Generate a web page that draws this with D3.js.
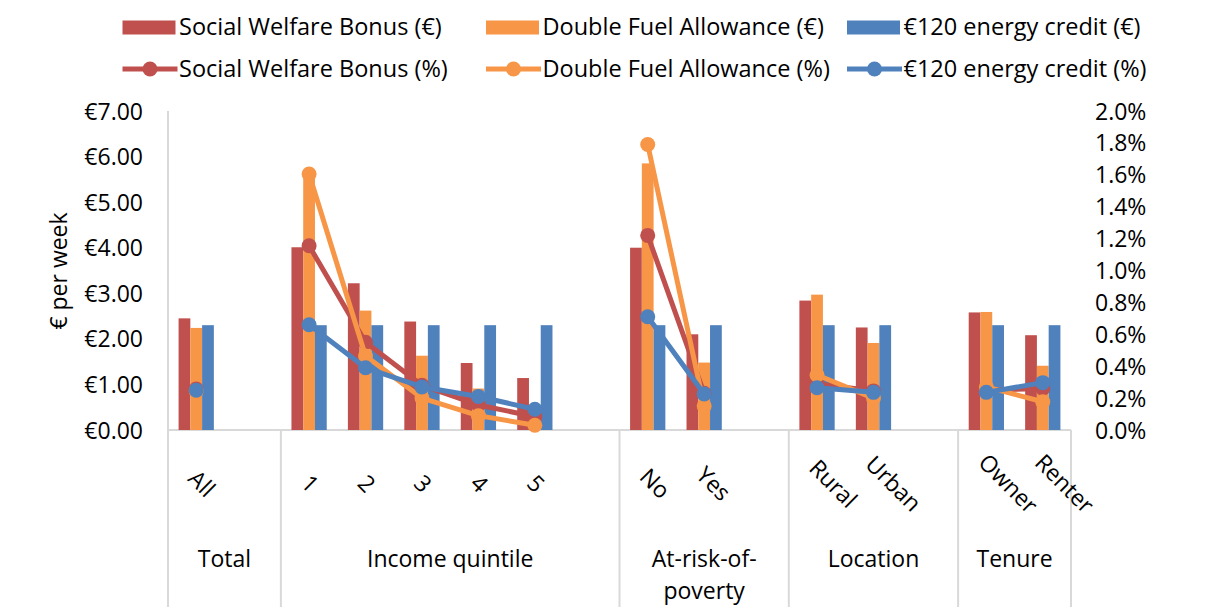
<!DOCTYPE html>
<html>
<head>
<meta charset="utf-8">
<script src="https://cdn.jsdelivr.net/npm/d3@7"></script>
<style>
  html, body { margin: 0; padding: 0; background: #fff; }
  svg text { font-family: "Open Sans", "Liberation Sans", sans-serif; fill: #000; }
</style>
</head>
<body>
<svg id="chart" width="1206" height="607"></svg>
<script>
// ---------- DATA ----------
const categories = ["All", "", "1", "2", "3", "4", "5", "", "No", "Yes", "", "Rural", "Urban", "", "Owner", "Renter"];
const groupLabels = [["Total"], ["Income quintile"], ["At-risk-of-", "poverty"], ["Location"], ["Tenure"]];
const groupSpans = [2, 6, 3, 3, 2];

const seriesNames = ["Social Welfare Bonus", "Double Fuel Allowance", "€120 energy credit"];

const swbEur = [2.45, null, 4.01, 3.22, 2.38, 1.47, 1.14, null, 4.00, 2.10, null, 2.84, 2.25, null, 2.58, 2.08];
const dfaEur = [2.24, null, 5.62, 2.62, 1.63, 0.91, 0.25, null, 5.85, 1.48, null, 2.97, 1.91, null, 2.59, 1.41];
const ecEur  = [2.30, null, 2.30, 2.30, 2.30, 2.30, 2.30, null, 2.30, 2.30, null, 2.30, 2.30, null, 2.30, 2.30];

const swbPct = [0.257, null, 1.155, 0.55, 0.28, 0.157, 0.083, null, 1.22, 0.23, null, 0.29, 0.245, null, 0.25, 0.26];
const dfaPct = [0.245, null, 1.605, 0.464, 0.20, 0.09, 0.03, null, 1.79, 0.15, null, 0.345, 0.20, null, 0.27, 0.177];
const ecPct  = [0.25, null, 0.66, 0.39, 0.27, 0.21, 0.13, null, 0.71, 0.226, null, 0.265, 0.236, null, 0.236, 0.297];

const leftTicks = [0, 1, 2, 3, 4, 5, 6, 7];
const rightTicks = [0, 0.2, 0.4, 0.6, 0.8, 1.0, 1.2, 1.4, 1.6, 1.8, 2.0];
const yTitle = "€ per week";

// ---------- STYLE ----------
const colors = ["#C0504D", "#F79646", "#4F81BD"];
const fontSize = 23;
const gridGray = "#d9d9d9";
const lineW = 5;
const markR = 7.5;

const svg = d3.select("#chart");
const plot = { left: 168, right: 1071, top: 111, bottom: 430 };

const x = d3.scaleBand().domain(d3.range(categories.length)).range([plot.left, plot.right]).padding(0);
const yL = d3.scaleLinear().domain([0, 7]).range([plot.bottom, plot.top]);
const yR = d3.scaleLinear().domain([0, 2]).range([plot.bottom, plot.top]);
const barW = x.bandwidth() / 4.8;
const cx = i => x(i) + x.bandwidth() / 2;

// Axes lines
svg.append("line").attr("x1", plot.left).attr("x2", plot.left).attr("y1", plot.top).attr("y2", 607)
  .attr("stroke", gridGray).attr("stroke-width", 2);
svg.append("line").attr("x1", plot.left).attr("x2", plot.right).attr("y1", plot.bottom).attr("y2", plot.bottom)
  .attr("stroke", gridGray).attr("stroke-width", 2);

// group separators
let acc = 0;
const bounds = [];
groupSpans.forEach(s => { bounds.push(acc); acc += s; });
bounds.push(acc);
bounds.slice(1).forEach(b => {
  const xx = b < categories.length ? x(b) : plot.right;
  svg.append("line").attr("x1", xx).attr("x2", xx).attr("y1", plot.bottom).attr("y2", 607)
    .attr("stroke", gridGray).attr("stroke-width", 2);
});

// Left axis
const gL = svg.append("g").attr("transform", `translate(${plot.left},0)`)
  .call(d3.axisLeft(yL).tickValues(leftTicks).tickSize(0).tickPadding(25).tickFormat(d => "€" + d3.format(".2f")(d)));
gL.select(".domain").remove();
gL.selectAll("text").style("font-size", fontSize + "px").attr("dy", "0.35em");

// Right axis
const gR = svg.append("g").attr("transform", `translate(${plot.right},0)`)
  .call(d3.axisRight(yR).tickValues(rightTicks).tickSize(0).tickPadding(24).tickFormat(d => d3.format(".1f")(d) + "%"));
gR.select(".domain").remove();
gR.selectAll("text").style("font-size", fontSize + "px").attr("dy", "0.35em");

// Y title
svg.append("text").attr("transform", "translate(58,271) rotate(-90)")
  .attr("text-anchor", "middle").attr("dominant-baseline", "central")
  .style("font-size", fontSize + "px").text(yTitle);

// Bars
const eurSeries = [swbEur, dfaEur, ecEur];
eurSeries.forEach((vals, s) => {
  svg.append("g").selectAll("rect")
    .data(vals.map((v, i) => ({ v, i })).filter(d => d.v !== null))
    .join("rect")
    .attr("x", d => cx(d.i) - 1.5 * barW + s * barW)
    .attr("width", barW)
    .attr("y", d => yL(d.v))
    .attr("height", d => yL(0) - yL(d.v))
    .attr("fill", colors[s]);
});

// Lines
const pctSeries = [swbPct, dfaPct, ecPct];
pctSeries.forEach((vals, s) => {
  const pts = vals.map((v, i) => ({ v, i }));
  const line = d3.line().defined(d => d.v !== null).x(d => cx(d.i)).y(d => yR(d.v));
  const g = svg.append("g");
  g.append("path").attr("d", line(pts)).attr("fill", "none")
    .attr("stroke", colors[s]).attr("stroke-width", lineW).attr("stroke-linejoin", "round");
  g.selectAll("circle").data(pts.filter(d => d.v !== null)).join("circle")
    .attr("cx", d => cx(d.i)).attr("cy", d => yR(d.v)).attr("r", markR).attr("fill", colors[s]);
});

// Category labels (rotated)
categories.forEach((c, i) => {
  if (!c) return;
  const t = svg.append("text").attr("text-anchor", "middle").attr("dominant-baseline", "central")
    .style("font-size", fontSize + "px").text(c);
  const L = t.node().getComputedTextLength();
  const px = cx(i) + L / 2 * Math.SQRT1_2 - 3;
  t.attr("transform", `translate(${px},483) rotate(45)`);
});

// Group labels
groupLabels.forEach((lines, gi) => {
  const x0 = x(bounds[gi]);
  const x1 = bounds[gi + 1] < categories.length ? x(bounds[gi + 1]) : plot.right;
  const t = svg.append("text").attr("text-anchor", "middle").style("font-size", fontSize + "px");
  lines.forEach((ln, li) => {
    t.append("tspan").attr("x", (x0 + x1) / 2).attr("y", 559 + li * 32).attr("dy", "0.35em").text(ln);
  });
});

// Legend
const legX = [122.5, 486, 847];
seriesNames.forEach((n, s) => {
  const lx = legX[s];
  svg.append("rect").attr("x", lx).attr("y", 20.5).attr("width", 53).attr("height", 14).attr("fill", colors[s]);
  svg.append("text").attr("x", lx + 56.5).attr("y", 27).attr("dy", "0.35em")
    .style("font-size", "23.5px").text(n + " (€)");
  svg.append("line").attr("x1", lx).attr("x2", lx + 55).attr("y1", 69).attr("y2", 69)
    .attr("stroke", colors[s]).attr("stroke-width", lineW);
  svg.append("circle").attr("cx", lx + 27.5).attr("cy", 69).attr("r", markR).attr("fill", colors[s]);
  svg.append("text").attr("x", lx + 56.5).attr("y", 69).attr("dy", "0.35em")
    .style("font-size", "23.5px").text(n + " (%)");
});
</script>
</body>
</html>
